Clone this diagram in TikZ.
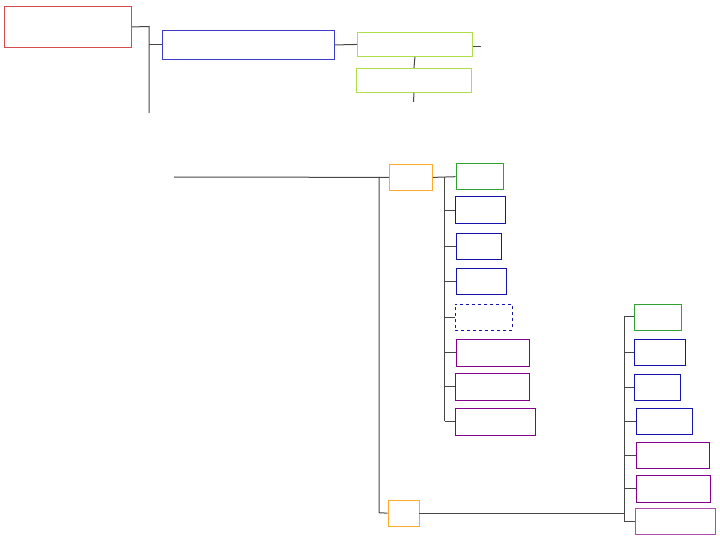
\documentclass[tikz,border=0pt]{standalone}
\begin{document}
\begin{tikzpicture}[x=1pt,y=-1pt,
  box/.style={draw, line width=0.9pt, inner sep=0pt, anchor=north west, fill=white},
  conn/.style={draw=linegray, line width=1pt},
  ]
\definecolor{linegray}{RGB}{70,70,70}
\definecolor{cred}{RGB}{215,75,75}
\definecolor{cblue}{RGB}{60,60,200}
\definecolor{clime}{RGB}{175,222,75}
\definecolor{corange}{RGB}{255,170,40}
\definecolor{cgreen}{RGB}{50,160,50}
\definecolor{cnavy}{RGB}{20,20,170}
\definecolor{cpurple}{RGB}{130,0,140}
\definecolor{clpurple}{RGB}{175,75,180}
\useasboundingbox (0,0) rectangle (720,540);
% top group
\node[box, draw=cred, minimum width=127pt, minimum height=41pt] (red) at (4,6) {};
\node[box, draw=cblue, minimum width=172pt, minimum height=29pt] (blue) at (162,30) {};
\node[box, draw=clime, minimum width=115pt, minimum height=24pt] (lime1) at (357,32) {};
\node[box, draw=clime, minimum width=115pt, minimum height=24pt] (lime2) at (356,68) {};
\coordinate (ja) at (149,26.5);
\coordinate (jb) at (149,113);
\coordinate (le) at (481,47);
\coordinate (ld) at (413.5,102);
\draw[conn] (red.east) -- (ja) -- (jb);
\draw[conn] (blue.west -| ja) -- (blue.west);
\draw[conn] (blue.east) -- (lime1.west);
\draw[conn] (lime1.east |- le) -- (le);
\draw[conn] (lime1.south) -- (lime2.north);
\draw[conn] (lime2.south) -- (ld);
% middle group
\node[box, draw=corange, minimum width=43pt, minimum height=26.5pt] (o1) at (389,163.7) {};
\node[box, draw=corange, minimum width=31pt, minimum height=26.5pt] (o2) at (387.5,499.5) {};
\coordinate (s) at (174,177);
\coordinate (va) at (379,177);
\coordinate (vb) at (379,512.7);
\draw[conn] (s) -- (o1.west);
\draw[conn] (va) -- (vb) -- (o2.west);
\node[box, draw=cgreen, minimum width=47pt, minimum height=26.5pt] (m1) at (455.5,163) {};
\node[box, draw=cnavy, minimum width=50.5pt, minimum height=26.5pt] (m2) at (454.5,196.5) {};
\node[box, draw=cnavy, minimum width=45.5pt, minimum height=26.5pt] (m3) at (455.5,232.5) {};
\node[box, draw=cnavy, minimum width=50.5pt, minimum height=26.5pt] (m4) at (455.5,267.5) {};
\node[box, draw=cnavy, dashed, minimum width=57pt, minimum height=26.5pt] (m5) at (454.5,303.5) {};
\node[box, draw=cpurple, minimum width=73pt, minimum height=27pt] (m6) at (455.5,338.5) {};
\node[box, draw=cpurple, minimum width=74pt, minimum height=27pt] (m7) at (454.5,372.5) {};
\node[box, draw=cpurple, minimum width=80pt, minimum height=27pt] (m8) at (454.5,407.5) {};
\coordinate (ma) at (444.5,177);
\coordinate (mb) at (444.5,421);
\draw[conn] (o1.east) -- (m1.west);
\draw[conn] (ma) -- (mb);
\foreach \n in {m2,m3,m4,m5,m6,m7,m8} \draw[conn] (\n.west -| ma) -- (\n.west);
% right group
\node[box, draw=cgreen, minimum width=47pt, minimum height=26pt] (r1) at (633.5,303.5) {};
\node[box, draw=cnavy, minimum width=51.5pt, minimum height=26.5pt] (r2) at (633.5,338.5) {};
\node[box, draw=cnavy, minimum width=45.5pt, minimum height=26.5pt] (r3) at (634,373.5) {};
\node[box, draw=cnavy, minimum width=56.5pt, minimum height=26.5pt] (r4) at (635.5,407.5) {};
\node[box, draw=cpurple, minimum width=73.5pt, minimum height=26.5pt] (r5) at (635.5,441.5) {};
\node[box, draw=cpurple, minimum width=74.5pt, minimum height=26.5pt] (r6) at (635.5,475) {};
\node[box, draw=clpurple, minimum width=80.5pt, minimum height=26.5pt] (r7) at (634.5,507.5) {};
\coordinate (ra) at (624,317);
\coordinate (rb) at (624,522);
\draw[conn] (o2.east) -- (o2.east -| ra);
\draw[conn] (ra) -- (rb);
\foreach \n in {r1,r2,r3,r4,r5,r6,r7} \draw[conn] (\n.west -| ra) -- (\n.west);
\end{tikzpicture}
\end{document}
